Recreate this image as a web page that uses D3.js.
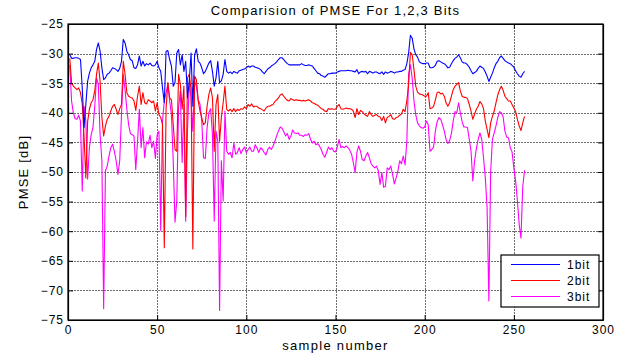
<!DOCTYPE html>
<html>
<head>
<meta charset="utf-8">
<script src="https://cdn.jsdelivr.net/npm/d3@7"></script>
<style>
  body { margin: 0; background: #fff; }
  text { font-family: "Liberation Sans", Arial, sans-serif; fill: #000; }
  .tick text { font-size: 12px; letter-spacing: 1px; }
</style>
</head>
<body>
<div id="chart"></div>
<script>
// PMSE per sample, 1..256
const pmse_1bit = [
  -30.2, -30.8, -30.8, -30.7, -30.7, -30.8, -31.0, -35.8, -42.5, -38.6,
  -34.7, -33.3, -32.4, -31.9, -31.3, -29.3, -28.2, -29.6, -32.4, -34.4,
  -34.1, -33.5, -33.3, -32.9, -32.4, -32.5, -32.7, -33.0, -32.5, -31.3,
  -27.6, -28.2, -29.6, -30.2, -31.0, -31.2, -32.4, -32.5, -31.9, -30.4,
  -32.1, -31.3, -32.1, -31.7, -31.9, -31.6, -32.0, -32.1, -31.9, -31.3,
  -32.4, -33.0, -35.8, -38.3, -29.6, -29.5, -31.0, -32.1, -35.5, -34.9,
  -29.9, -29.3, -31.9, -30.2, -33.0, -31.3, -37.5, -34.7, -29.9, -38.9,
  -30.2, -29.2, -31.3, -31.6, -32.4, -33.4, -33.0, -32.3, -31.6, -31.2,
  -33.0, -35.5, -34.1, -31.3, -34.9, -34.6, -33.5, -31.0, -33.0, -33.3,
  -33.1, -33.4, -33.0, -33.2, -33.3, -32.9, -32.8, -32.7, -32.6, -32.4,
  -32.1, -32.3, -32.1, -32.1, -32.3, -32.4, -32.5, -32.7, -33.1, -33.4,
  -33.0, -32.6, -32.4, -32.1, -31.9, -31.7, -31.4, -31.0, -30.7, -30.7,
  -31.0, -31.4, -31.7, -31.9, -31.9, -31.9, -31.9, -31.9, -31.9, -31.9,
  -31.7, -31.9, -32.0, -32.0, -31.9, -32.0, -32.1, -32.5, -32.9, -33.3,
  -33.4, -33.7, -33.8, -34.0, -33.7, -33.4, -33.4, -33.3, -33.3, -33.3,
  -33.1, -33.0, -32.9, -32.9, -32.9, -32.9, -32.8, -32.9, -32.9, -33.0,
  -33.1, -32.7, -33.4, -33.1, -33.0, -33.1, -33.0, -33.4, -33.0, -33.1,
  -33.3, -33.1, -33.1, -33.3, -33.4, -33.1, -33.5, -33.1, -33.3, -33.2,
  -33.0, -33.1, -33.3, -33.1, -33.1, -33.0, -33.0, -32.8, -32.7, -31.7,
  -29.9, -26.9, -27.4, -29.2, -30.2, -30.6, -31.4, -31.6, -31.7, -31.7,
  -31.6, -31.6, -32.4, -32.4, -32.3, -32.0, -31.3, -31.2, -31.4, -31.6,
  -31.7, -32.0, -32.4, -32.3, -31.7, -31.2, -30.8, -30.6, -30.2, -30.7,
  -31.4, -31.6, -31.6, -31.9, -32.3, -32.9, -33.4, -33.2, -33.0, -32.5,
  -32.1, -32.3, -32.5, -33.1, -33.8, -34.7, -34.0, -33.3, -32.4, -31.7,
  -31.3, -30.7, -30.4, -30.8, -31.2, -31.4, -31.6, -31.7, -32.0, -32.3,
  -32.9, -33.4, -33.8, -34.0, -33.4, -33.0
]

const pmse_2bit = [
  -30.8, -34.9, -35.5, -35.8, -36.1, -35.8, -36.6, -38.5, -44.0, -51.0,
  -41.5, -39.4, -38.3, -37.8, -36.3, -33.5, -31.6, -34.7, -40.8, -43.9,
  -42.2, -41.1, -40.6, -39.7, -38.9, -38.6, -39.4, -40.3, -39.3, -38.6,
  -31.3, -33.5, -36.6, -37.2, -37.4, -37.5, -38.0, -39.6, -37.2, -35.5,
  -38.6, -36.6, -38.3, -38.5, -37.8, -38.0, -38.3, -38.0, -39.7, -38.3,
  -40.3, -40.8, -42.0, -62.8, -39.2, -34.9, -37.5, -37.8, -42.0, -46.2,
  -46.5, -33.5, -35.2, -39.4, -35.5, -57.5, -34.1, -33.5, -36.0, -63.0,
  -33.8, -34.4, -38.0, -39.7, -40.8, -42.0, -41.7, -38.9, -36.9, -35.8,
  -37.5, -46.5, -38.6, -36.9, -44.8, -40.8, -38.3, -35.5, -39.4, -39.7,
  -39.4, -39.8, -39.3, -39.8, -39.4, -39.6, -39.3, -39.4, -39.0, -39.3,
  -38.6, -38.9, -38.5, -39.0, -38.9, -38.9, -39.2, -39.3, -39.5, -39.7,
  -39.2, -38.9, -38.9, -38.7, -38.6, -38.1, -37.8, -37.5, -37.0, -36.8,
  -37.2, -37.6, -37.9, -38.0, -37.6, -37.8, -37.9, -37.8, -37.9, -37.9,
  -38.0, -37.9, -38.0, -37.9, -37.8, -38.0, -38.3, -38.4, -38.6, -38.7,
  -39.0, -39.3, -39.4, -39.7, -39.8, -39.3, -39.4, -39.3, -39.4, -39.4,
  -38.9, -38.6, -39.3, -39.4, -39.3, -39.2, -39.3, -39.3, -39.4, -39.7,
  -40.8, -39.3, -40.3, -39.6, -39.8, -40.2, -40.4, -40.6, -39.8, -40.3,
  -40.6, -40.4, -40.3, -40.6, -40.7, -41.3, -40.6, -41.7, -40.8, -40.6,
  -40.3, -41.0, -41.1, -40.8, -40.7, -40.4, -40.2, -39.4, -39.8, -38.0,
  -35.2, -29.8, -30.2, -32.7, -35.5, -36.5, -36.8, -36.9, -37.0, -37.2,
  -37.2, -36.6, -39.3, -39.2, -38.9, -37.8, -36.6, -36.5, -36.8, -36.7,
  -37.2, -38.3, -38.9, -38.3, -37.2, -36.1, -35.5, -35.2, -34.9, -36.3,
  -37.2, -37.4, -37.4, -37.6, -38.6, -39.7, -41.1, -40.2, -39.4, -38.9,
  -38.1, -38.5, -39.3, -41.4, -42.8, -44.2, -41.7, -40.6, -39.7, -38.3,
  -37.0, -36.1, -35.5, -36.2, -37.2, -37.6, -38.0, -38.0, -38.6, -39.2,
  -39.8, -41.1, -42.2, -43.0, -41.7, -40.6
]

const pmse_3bit = [
  -31.9, -38.0, -40.0, -41.0, -41.1, -40.4, -41.4, -53.2, -38.9, -41.4,
  -51.2, -45.9, -43.7, -42.5, -38.9, -34.1, -35.2, -43.7, -48.1, -73.1,
  -49.8, -49.0, -47.3, -45.9, -45.3, -46.5, -48.1, -50.4, -48.1, -40.3,
  -33.5, -36.1, -39.4, -42.0, -43.5, -43.7, -43.9, -49.6, -44.8, -39.4,
  -45.9, -42.5, -47.6, -44.9, -45.3, -43.8, -45.9, -44.8, -47.7, -43.7,
  -43.1, -59.9, -41.4, -38.0, -36.6, -35.2, -38.0, -40.3, -48.1, -58.5,
  -54.9, -39.2, -36.3, -48.4, -38.6, -58.3, -43.1, -34.9, -37.5, -43.1,
  -34.7, -35.5, -37.8, -38.5, -41.4, -47.6, -47.7, -42.5, -40.0, -39.3,
  -43.7, -58.3, -43.1, -44.8, -73.4, -48.1, -54.9, -39.7, -46.5, -47.0,
  -46.7, -47.6, -45.1, -47.0, -46.7, -45.9, -46.9, -46.2, -45.8, -46.7,
  -46.2, -45.8, -46.5, -46.5, -45.4, -46.0, -46.7, -45.9, -46.2, -46.7,
  -47.1, -46.2, -45.8, -46.2, -45.6, -44.8, -43.9, -43.1, -42.4, -42.6,
  -43.2, -43.9, -43.5, -44.5, -43.9, -42.9, -43.4, -43.5, -43.4, -43.8,
  -43.8, -44.0, -43.7, -43.8, -43.5, -44.5, -45.1, -44.8, -45.4, -45.2,
  -45.6, -46.2, -47.0, -47.5, -46.7, -45.8, -46.2, -45.9, -46.5, -46.6,
  -45.8, -44.5, -45.9, -45.7, -45.9, -45.6, -45.9, -46.3, -47.0, -48.4,
  -50.1, -46.7, -45.6, -46.5, -47.9, -48.1, -47.3, -46.7, -47.6, -48.6,
  -49.0, -49.3, -49.0, -49.8, -52.1, -50.1, -52.6, -52.4, -49.3, -49.6,
  -49.0, -50.4, -52.0, -51.0, -49.8, -48.1, -48.6, -47.3, -48.8, -44.8,
  -33.5, -31.9, -34.1, -38.0, -40.3, -41.7, -42.2, -42.5, -42.6, -42.4,
  -41.4, -42.0, -46.5, -46.2, -45.8, -43.1, -41.5, -40.8, -41.1, -42.0,
  -43.1, -44.5, -45.2, -44.7, -43.5, -41.4, -39.8, -40.0, -38.3, -40.0,
  -41.5, -42.4, -42.4, -42.5, -44.5, -46.5, -51.5, -48.1, -46.0, -44.5,
  -43.4, -44.5, -47.6, -51.0, -56.0, -71.8, -50.0, -44.5, -43.4, -42.2,
  -40.8, -39.8, -40.0, -40.7, -43.1, -44.1, -44.2, -45.9, -46.6, -49.3,
  -51.5, -54.9, -58.8, -61.2, -52.5, -49.7
]

const series_names = ["1bit", "2bit", "3bit"]
const series_colors = ["#0000ff", "#ff0000", "#ff00ff"]
const x_ticks = [0, 50, 100, 150, 200, 250, 300]
const y_ticks = [-75, -70, -65, -60, -55, -50, -45, -40, -35, -30, -25]

const W = 624, H = 354
const margin = {top: 24, right: 21, bottom: 34, left: 68}
const width = W - margin.left - margin.right
const height = H - margin.top - margin.bottom

const svg = d3.select("#chart").append("svg")
    .attr("width", W)
    .attr("height", H)
const g = svg.append("g")
    .attr("transform", "translate(" + margin.left + "," + margin.top + ")")

const x = d3.scaleLinear().domain([0, 300]).range([0, width])
const y = d3.scaleLinear().domain([-75, -25]).range([height, 0])

// grid
g.append("g").selectAll("line.gx")
    .data(x_ticks.slice(1, -1))
    .enter().append("line")
    .attr("x1", d => Math.round(x(d)) + 0.5).attr("x2", d => Math.round(x(d)) + 0.5)
    .attr("y1", 0).attr("y2", height)
    .attr("stroke", "#6e6e6e").attr("stroke-dasharray", "2,1")
g.append("g").selectAll("line.gy")
    .data(y_ticks.slice(1, -1))
    .enter().append("line")
    .attr("y1", d => Math.round(y(d)) + 0.5).attr("y2", d => Math.round(y(d)) + 0.5)
    .attr("x1", 0).attr("x2", width)
    .attr("stroke", "#6e6e6e").attr("stroke-dasharray", "2,1")

// lines
const all_series = [pmse_1bit, pmse_2bit, pmse_3bit]
const line = d3.line()
    .x((d, i) => x(i + 1))
    .y(d => y(d))
for (let i = all_series.length - 1; i >= 0; i--) {
    g.append("path")
        .datum(all_series[i])
        .attr("fill", "none")
        .attr("stroke", series_colors[i])
        .attr("stroke-width", 1.1)
        .attr("stroke-linejoin", "round")
        .attr("d", line)
}

// axes, MATLAB style ticks inside on all sides
g.append("g")
    .attr("transform", "translate(0," + height + ")")
    .call(d3.axisBottom(x).tickValues(x_ticks).tickSizeInner(-5).tickSizeOuter(0).tickPadding(5))
g.append("g")
    .call(d3.axisTop(x).tickValues(x_ticks).tickSizeInner(-5).tickSizeOuter(0).tickFormat(""))
g.append("g")
    .call(d3.axisLeft(y).tickValues(y_ticks).tickSizeInner(-5).tickSizeOuter(0).tickPadding(4))
g.append("g")
    .attr("transform", "translate(" + width + ",0)")
    .call(d3.axisRight(y).tickValues(y_ticks).tickSizeInner(-5).tickSizeOuter(0).tickFormat(""))
g.selectAll(".domain").attr("stroke", "#000").attr("stroke-width", 1.2)
g.selectAll(".tick line").attr("stroke", "#000")

g.append("rect")
    .attr("width", width).attr("height", height)
    .attr("fill", "none").attr("stroke", "#000").attr("stroke-width", 1.2)

// titles
svg.append("text")
    .attr("x", margin.left + width / 2).attr("y", 15)
    .attr("text-anchor", "middle").style("font-size", "13px").style("letter-spacing", "1.2px")
    .text("Comparision of PMSE For 1,2,3 Bits")
svg.append("text")
    .attr("x", margin.left + width / 2).attr("y", 350)
    .attr("text-anchor", "middle").style("font-size", "13px").style("letter-spacing", "1.3px")
    .text("sample number")
svg.append("text")
    .attr("transform", "translate(28," + (margin.top + height / 2) + ") rotate(-90)")
    .attr("text-anchor", "middle").style("font-size", "13px").style("letter-spacing", "1.2px")
    .text("PMSE [dB]")

// legend
const legend = svg.append("g").attr("transform", "translate(501,255)")
legend.append("rect")
    .attr("width", 98).attr("height", 52)
    .attr("fill", "#fff").attr("stroke", "#000").attr("stroke-width", 1.2)
series_names.forEach((name, i) => {
    const ly = 9.5 + i * 16
    legend.append("line")
        .attr("x1", 10).attr("x2", 59).attr("y1", ly).attr("y2", ly)
        .attr("stroke", series_colors[i]).attr("stroke-width", 1.1)
    legend.append("text")
        .attr("x", 66).attr("y", ly + 4.5)
        .style("font-size", "12px").style("letter-spacing", "1px")
        .text(name)
})
</script>
</body>
</html>
